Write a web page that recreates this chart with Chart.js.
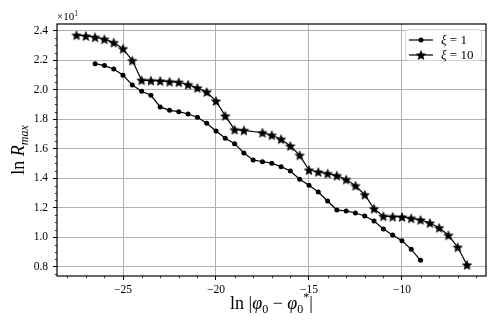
<!DOCTYPE html>
<html>
<head>
<meta charset="utf-8">
<script src="https://cdn.jsdelivr.net/npm/chart.js@4/dist/chart.umd.min.js"></script>
<style>
  html, body { margin: 0; padding: 0; background: #fff; }
</style>
</head>
<body>
<canvas id="myChart" width="498" height="332"></canvas>
<script>
// data (y in raw units, axis shows them as x10^1)
const xi1X = [-26.5, -26, -25.5, -25, -24.5, -24, -23.5, -23, -22.5, -22, -21.5, -21,
  -20.5, -20, -19.5, -19, -18.5, -18, -17.5, -17, -16.5, -16, -15.5, -15,
  -14.5, -14, -13.5, -13, -12.5, -12, -11.5, -11, -10.5, -10, -9.5, -9];
const xi1Y = [21.76, 21.63, 21.40, 20.98, 20.32, 19.89, 19.62, 18.83, 18.60, 18.51, 18.35, 18.13,
  17.72, 17.20, 16.71, 16.34, 15.71, 15.23, 15.12, 15.01, 14.78, 14.49, 13.93, 13.52,
  13.06, 12.45, 11.84, 11.78, 11.64, 11.44, 11.10, 10.56, 10.15, 9.76, 9.18, 8.43];

const xi10X = [-27.5, -27, -26.5, -26, -25.5, -25, -24.5, -24, -23.5, -23, -22.5, -22,
  -21.5, -21, -20.5, -20, -19.5, -19, -18.5, -17.5, -17, -16.5, -16, -15.5,
  -15, -14.5, -14, -13.5, -13, -12.5, -12, -11.5, -11, -10.5, -10, -9.5,
  -9, -8.5, -8, -7.5, -7, -6.5];
const xi10Y = [23.69, 23.64, 23.55, 23.42, 23.19, 22.78, 21.97, 20.64, 20.61, 20.59, 20.54, 20.50,
  20.34, 20.12, 19.84, 19.23, 18.22, 17.29, 17.24, 17.08, 16.91, 16.64, 16.18, 15.55,
  14.55, 14.42, 14.31, 14.17, 13.91, 13.49, 12.88, 11.93, 11.42, 11.39, 11.37, 11.28,
  11.17, 10.96, 10.64, 10.13, 9.32, 8.12];

const xTicks = [-25, -20, -15, -10];
const yTicks = [8, 10, 12, 14, 16, 18, 20, 22, 24];
const seriesNames = ['1', '10'];

const serif = '"Liberation Serif", "DejaVu Serif", serif';

// filled five point star for the xi = 10 markers
function makeStar(r) {
  const c = document.createElement('canvas');
  const s = Math.ceil(r * 2) + 2;
  c.width = s; c.height = s;
  const g = c.getContext('2d');
  g.beginPath();
  for (let i = 0; i < 10; i++) {
    const rad = i % 2 === 0 ? r : r * 0.45;
    const a = -Math.PI / 2 + i * Math.PI / 5;
    const px = s / 2 + rad * Math.cos(a), py = s / 2 + rad * Math.sin(a) + 0.5;
    if (i === 0) g.moveTo(px, py); else g.lineTo(px, py);
  }
  g.closePath();
  g.fillStyle = '#000';
  g.fill();
  g.strokeStyle = '#000';
  g.lineWidth = 0.6;
  g.stroke();
  return c;
}
const starImg = makeStar(4.9);

// draw a row of text pieces (italic / sub / sup)
function drawRich(ctx, parts, x, y, align) {
  let total = 0;
  parts.forEach(p => {
    ctx.font = (p.italic ? 'italic ' : '') + p.size + 'px ' + serif;
    p.w = ctx.measureText(p.t).width;
    total += p.w;
  });
  let cx = align === 'center' ? x - total / 2 : x;
  parts.forEach(p => {
    ctx.font = (p.italic ? 'italic ' : '') + p.size + 'px ' + serif;
    ctx.fillText(p.t, cx, y + (p.dy || 0));
    cx += p.w;
  });
}

const decoPlugin = {
  id: 'deco',
  afterDraw(chart) {
    const ctx = chart.ctx;
    const a = chart.chartArea;
    const xs = chart.scales.x, ys = chart.scales.y;
    ctx.save();
    ctx.strokeStyle = '#000';

    // minor ticks
    ctx.lineWidth = 0.8;
    ctx.beginPath();
    for (let v = -28; v <= -6; v++) {
      if (v % 5 === 0) continue;
      const px = Math.round(xs.getPixelForValue(v)) + 0.5;
      ctx.moveTo(px, a.bottom); ctx.lineTo(px, a.bottom + 2.2);
    }
    for (let v = 7.5; v <= 24.4; v += 0.5) {
      if (Math.abs(v % 2) < 0.01) continue;
      const py = Math.round(ys.getPixelForValue(v)) + 0.5;
      ctx.moveTo(a.left, py); ctx.lineTo(a.left - 2.2, py);
    }
    ctx.stroke();

    // spines
    ctx.lineWidth = 1.2;
    ctx.strokeRect(a.left, a.top, a.right - a.left, a.bottom - a.top);

    ctx.fillStyle = '#000';
    ctx.textBaseline = 'alphabetic';

    // offset text
    drawRich(ctx, [
      { t: '\u00d710', size: 11 },
      { t: '1', size: 7.5, dy: -4 }
    ], a.left, a.top - 4, 'left');

    // x title
    drawRich(ctx, [
      { t: 'ln |', size: 18 },
      { t: '\u03c6', size: 18, italic: true },
      { t: '0', size: 12, dy: 4 },
      { t: ' \u2212 ', size: 18 },
      { t: '\u03c6', size: 18, italic: true },
      { t: '0', size: 12, dy: 4 },
      { t: '*', size: 12, dy: -8 },
      { t: '|', size: 18 }
    ], (a.left + a.right) / 2, 309, 'center');

    // y title
    ctx.save();
    ctx.translate(24, (a.top + a.bottom) / 2);
    ctx.rotate(-Math.PI / 2);
    drawRich(ctx, [
      { t: 'ln ', size: 18 },
      { t: 'R', size: 18, italic: true },
      { t: 'max', size: 12, italic: true, dy: 4 }
    ], 0, 0, 'center');
    ctx.restore();

    // legend
    const lx = 405, ly = 29, lw = 76, lh = 31;
    ctx.fillStyle = 'rgba(255,255,255,0.85)';
    ctx.strokeStyle = '#d8d8d8';
    ctx.lineWidth = 1;
    ctx.beginPath();
    ctx.roundRect(lx + 0.5, ly + 0.5, lw, lh, 3);
    ctx.fill();
    ctx.stroke();
    const rows = [40, 55];
    chart.data.datasets.forEach((ds, i) => {
      const ry = rows[i];
      ctx.strokeStyle = '#000';
      ctx.lineWidth = 1.2;
      ctx.beginPath();
      ctx.moveTo(409, ry); ctx.lineTo(433, ry);
      ctx.stroke();
      ctx.fillStyle = '#000';
      if (i === 0) {
        ctx.beginPath();
        ctx.arc(421, ry, 2.5, 0, Math.PI * 2);
        ctx.fill();
      } else {
        ctx.drawImage(starImg, 421 - starImg.width / 2, ry - starImg.height / 2);
      }
      drawRich(ctx, [
        { t: '\u03be', size: 13, italic: true },
        { t: ' = ' + seriesNames[i], size: 13 }
      ], 441, ry + 4, 'left');
    });
    ctx.restore();
  }
};

const ctx = document.getElementById('myChart').getContext('2d');
new Chart(ctx, {
  type: 'line',
  data: {
    datasets: [
      {
        label: '\u03be = ' + seriesNames[0],
        data: xi1X.map((x, i) => ({ x: x, y: xi1Y[i] })),
        borderColor: '#000',
        borderWidth: 1.2,
        backgroundColor: '#000',
        pointStyle: 'circle',
        pointRadius: 2.5,
        pointBorderWidth: 0,
        pointBackgroundColor: '#000',
        tension: 0
      },
      {
        label: '\u03be = ' + seriesNames[1],
        data: xi10X.map((x, i) => ({ x: x, y: xi10Y[i] })),
        borderColor: '#000',
        borderWidth: 1.2,
        backgroundColor: '#000',
        pointStyle: starImg,
        pointRadius: 4,
        tension: 0
      }
    ]
  },
  options: {
    responsive: false,
    animation: false,
    devicePixelRatio: 1,
    layout: { padding: { top: 24, right: 12, left: 0, bottom: 0 } },
    plugins: {
      legend: { display: false },
      tooltip: { enabled: false }
    },
    scales: {
      x: {
        type: 'linear',
        min: -28.55,
        max: -5.48,
        afterBuildTicks: s => { s.ticks = xTicks.map(v => ({ value: v })); },
        afterFit: s => { s.height = 56; },
        grid: { color: '#b0b0b0', lineWidth: 1, tickColor: '#000', tickLength: 4, drawTicks: true },
        border: { display: false },
        ticks: {
          color: '#000',
          padding: 3,
          maxRotation: 0,
          font: { family: serif, size: 11.5 },
          callback: v => v < 0 ? '\u2212' + Math.abs(v) : String(v)
        }
      },
      y: {
        type: 'linear',
        min: 7.37,
        max: 24.45,
        afterBuildTicks: s => { s.ticks = yTicks.map(v => ({ value: v })); },
        afterFit: s => { s.width = 57; },
        grid: { color: '#b0b0b0', lineWidth: 1, tickColor: '#000', tickLength: 4, drawTicks: true },
        border: { display: false },
        ticks: {
          color: '#000',
          padding: 5,
          font: { family: serif, size: 11.5 },
          callback: v => (v / 10).toFixed(1)
        }
      }
    }
  },
  plugins: [decoPlugin]
});
</script>
</body>
</html>
